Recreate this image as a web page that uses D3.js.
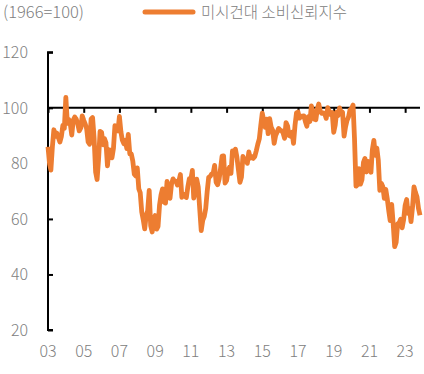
<!DOCTYPE html>
<html>
<head>
<meta charset="utf-8">
<script src="https://cdn.jsdelivr.net/npm/d3@7"></script>
<style>
  html, body { margin: 0; padding: 0; background: #fff; }
  svg text { font-family: "Noto Sans CJK KR", "Noto Sans", sans-serif; font-weight: 300; }
</style>
</head>
<body>
<svg id="chart" width="424" height="374"></svg>
<script>
// Monthly values, Jan 2003 .. Nov 2023 (1966=100)
const values = [
  86.0, 79.9, 77.6, 86.0, 92.1, 89.7, 90.9, 89.3, 87.7, 89.6, 93.7, 92.6,
  103.8, 94.4, 95.8, 94.2, 90.2, 95.6, 96.7, 95.9, 94.2, 91.7, 92.8, 97.1,
  95.5, 94.1, 92.6, 87.7, 86.9, 96.0, 96.5, 89.1, 76.9, 74.2, 81.6, 91.5,
  91.2, 86.7, 88.9, 87.4, 79.1, 84.9, 84.7, 82.0, 85.4, 93.6, 92.1, 91.7,
  96.9, 91.3, 88.4, 87.1, 88.3, 85.3, 90.4, 83.4, 83.4, 80.9, 76.1, 75.5,
  78.4, 70.8, 69.5, 62.6, 59.8, 56.4, 61.2, 63.0, 70.3, 57.6, 55.3, 60.1,
  61.2, 56.3, 57.3, 65.1, 68.7, 70.8, 66.0, 65.7, 73.5, 70.6, 67.4, 72.5,
  74.4, 73.6, 73.6, 72.2, 73.6, 76.0, 67.8, 68.9, 68.2, 67.7, 71.6, 74.5,
  74.2, 77.5, 67.5, 69.8, 74.3, 71.5, 63.7, 55.8, 59.5, 60.8, 63.7, 69.9,
  75.0, 75.3, 76.2, 76.4, 79.3, 73.2, 72.3, 74.3, 78.3, 82.6, 82.7, 72.9,
  73.8, 77.6, 78.6, 76.4, 84.5, 84.1, 85.1, 82.1, 77.5, 73.2, 75.1, 82.5,
  81.2, 81.6, 80.0, 84.1, 81.9, 82.5, 81.8, 82.5, 84.6, 86.9, 88.8, 93.6,
  98.1, 95.4, 93.0, 95.9, 90.7, 96.1, 93.1, 91.9, 87.2, 90.0, 91.3, 92.6,
  92.0, 91.7, 91.0, 89.0, 94.7, 93.5, 90.0, 89.8, 91.2, 87.2, 93.8, 98.2,
  98.5, 96.3, 96.9, 97.0, 97.1, 95.0, 93.4, 96.8, 95.1, 100.7, 98.5, 95.9,
  95.7, 99.7, 101.4, 98.8, 98.0, 98.2, 97.9, 96.2, 100.1, 98.6, 97.5, 98.3,
  91.2, 93.8, 98.4, 97.2, 100.0, 98.2, 98.4, 89.8, 93.2, 95.5, 96.8, 99.3,
  99.8, 101.0, 89.1, 71.8, 72.3, 78.1, 72.5, 74.1, 80.4, 81.8, 76.9, 80.7,
  79.0, 76.8, 84.9, 88.3, 82.9, 85.5, 81.2, 70.3, 72.8, 71.7, 67.4, 70.6,
  67.2, 62.8, 59.4, 65.2, 58.4, 50.0, 51.5, 58.2, 58.6, 59.9, 56.8, 59.7,
  64.9, 67.0, 62.0, 63.7, 59.0, 64.2, 71.5, 69.5, 67.9, 63.8, 61.3
];
const startYear = 2003;
const xTickYears = [2003, 2005, 2007, 2009, 2011, 2013, 2015, 2017, 2019, 2021, 2023];
const yTicks = [20, 40, 60, 80, 100, 120];
const seriesName = "미시건대 소비신뢰지수";
const unitLabel = "(1966=100)";

const dates = values.map((v, i) => new Date(startYear, i, 1));
const data = values.map((v, i) => ({ date: dates[i], value: v }));

const svg = d3.select("#chart");
const color = "#ED7D31";
const textColor = "#808080";

const x = d3.scaleTime()
  .domain([dates[0], dates[dates.length - 1]])
  .range([48, 420]);
const y = d3.scaleLinear().domain([20, 120]).range([330, 52.3]);

// Y axis
const yAxis = d3.axisRight(y).tickValues(yTicks).tickSize(5).tickFormat("");
const gy = svg.append("g").attr("transform", "translate(48,0)").call(yAxis);
gy.select(".domain").attr("stroke", "#000").attr("stroke-width", 2)
  .attr("d", `M5,${y(120)}H0V${y(20)}H5`);
gy.selectAll(".tick line").attr("stroke", "#000").attr("stroke-width", 2);

svg.append("g").selectAll("text").data(yTicks).join("text")
  .attr("x", 28).attr("y", d => y(d))
  .attr("dy", "0.36em")
  .attr("text-anchor", "end")
  .attr("font-size", 16)
  .attr("fill", textColor)
  .text(d => d);

// Horizontal reference axis at 100
const xAxis = d3.axisBottom(x)
  .tickValues(xTickYears.map(yr => new Date(yr, 0, 1)))
  .tickSize(5).tickFormat("");
const gx = svg.append("g").attr("transform", `translate(0,${y(100)})`).call(xAxis);
gx.select(".domain").attr("stroke", "#000").attr("stroke-width", 2)
  .attr("d", `M${x.range()[0]},0H${x.range()[1]}`);
gx.selectAll(".tick line").attr("stroke", "#000").attr("stroke-width", 2);

// X tick labels at the bottom
svg.append("g").selectAll("text").data(xTickYears).join("text")
  .attr("x", d => x(new Date(d, 0, 1)))
  .attr("y", 357)
  .attr("text-anchor", "middle")
  .attr("font-size", 16)
  .attr("fill", textColor)
  .text(d => String(d).slice(2));

// Line
const line = d3.line().x(d => x(d.date)).y(d => y(d.value));
svg.append("path").datum(data)
  .attr("fill", "none")
  .attr("stroke", color)
  .attr("stroke-width", 4.8)
  .attr("stroke-linejoin", "round")
  .attr("stroke-linecap", "butt")
  .attr("d", line);

// Unit label
svg.append("text").attr("x", 3).attr("y", 18)
  .attr("font-size", 16.5).attr("fill", textColor).text(unitLabel);

// Legend
svg.append("line").attr("x1", 145).attr("x2", 193).attr("y1", 12).attr("y2", 12)
  .attr("stroke", color).attr("stroke-width", 5).attr("stroke-linecap", "round");
svg.append("text").attr("x", 201).attr("y", 18)
  .attr("font-size", 15.5).attr("fill", textColor).text(seriesName);
</script>
</body>
</html>
